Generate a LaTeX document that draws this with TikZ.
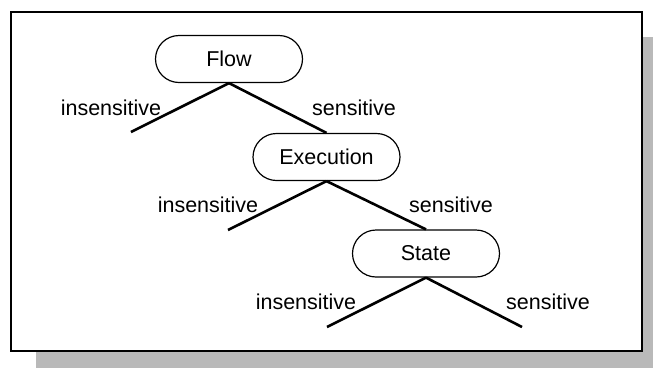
\documentclass[tikz,border=0pt]{standalone}
\usepackage{fontspec}
\setmainfont{Liberation Sans}
\begin{document}
\begin{tikzpicture}[x=1pt,y=-1pt,
  pill/.style={draw=black, line width=1.2pt, fill=white, rounded corners=23.5pt,
    minimum width=147pt, minimum height=47pt, inner sep=0pt, font=\fontsize{21.5}{24}\selectfont},
  branch/.style={line width=2.6pt, line cap=butt},
  lbl/.style={inner sep=0pt, font=\fontsize{21.5}{24}\selectfont}]
  \useasboundingbox (0,0) rectangle (653,368);
  % drop shadow and frame
  \fill[gray!55] (36,37) rectangle (653,368);
  \draw[line width=1.4pt, fill=white] (11,12) rectangle (642,351);

  % decision nodes
  \node[pill] (flow) at (229,59) {Flow};
  \node[pill] (exec) at (326.5,157) {Execution};
  \node[pill] (state) at (426,253.5) {State};

  % free ends of the leaf branches
  \coordinate (l1) at (131,132);
  \coordinate (l2) at (228,230);
  \coordinate (l3) at (327,327);
  \coordinate (r3) at (522,327);

  % branches
  \draw[branch] (flow.south) -- (l1);
  \draw[branch] (flow.south) -- (exec.north);
  \draw[branch] (exec.south) -- (l2);
  \draw[branch] (exec.south) -- (state.north);
  \draw[branch] (state.south) -- (l3);
  \draw[branch] (state.south) -- (r3);

  % branch labels
  \node[lbl] (i1) at (111,108) {insensitive};
  \node[lbl] (s1) at (354,108) {sensitive};
  \node[lbl] (i2) at (208,205) {insensitive};
  \node[lbl] (s2) at (451,205) {sensitive};
  \node[lbl] (i3) at (306,302) {insensitive};
  \node[lbl] (s3) at (548,302) {sensitive};
\end{tikzpicture}
\end{document}
